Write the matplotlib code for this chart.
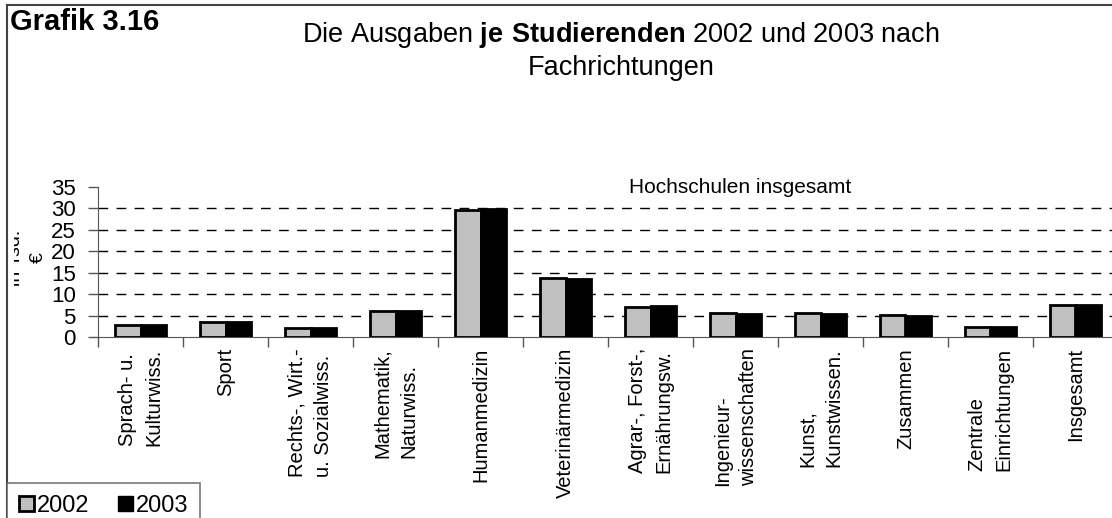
import matplotlib
matplotlib.use("Agg")
import matplotlib.pyplot as plt
import numpy as np
from matplotlib.patches import Patch
from matplotlib.lines import Line2D
from matplotlib.transforms import Bbox

# data (Tsd. Euro je Studierenden)
categories = ["Sprach- u.\nKulturwiss.", "Sport", "Rechts-, Wirt.-\nu. Sozialwiss.",
              "Mathematik,\nNaturwiss.", "Humanmedizin", "Veterinärmedizin",
              "Agrar-, Forst-,\nErnährungsw.", "Ingenieur-\nwissenschaften",
              "Kunst,\nKunstwissen.", "Zusammen", "Zentrale\nEinrichtungen", "Insgesamt"]
v2002 = [2.7, 3.6, 2.0, 6.1, 29.6, 13.7, 7.1, 5.5, 5.5, 5.1, 2.4, 7.5]
v2003 = [2.7, 3.4, 2.0, 6.0, 29.8, 13.6, 7.2, 5.3, 5.4, 5.0, 2.3, 7.4]
years = ["2002", "2003"]
yticks = [0, 5, 10, 15, 20, 25, 30, 35]

plt.rcParams['font.family'] = ['Liberation Sans', 'DejaVu Sans']
plt.rcParams['mathtext.fontset'] = 'custom'
plt.rcParams['mathtext.rm'] = 'Liberation Sans'
plt.rcParams['mathtext.bf'] = 'Liberation Sans:bold'

W, H = 1112, 518
fig = plt.figure(figsize=(W / 100, H / 100), dpi=100)

# axes in pixel coords: left 98, bottom (y=337), top (y=187), 85 px per category
left, right, top, bottom = 98, 98 + 85 * 12, 187, 337
ax = fig.add_axes([left / W, 1 - bottom / H, (right - left) / W, (bottom - top) / H])

x = np.arange(len(categories))
bw = 0.295
ax.bar(x - bw / 2, v2002, bw, color="#c0c0c0", edgecolor="black", linewidth=2, zorder=3)
ax.bar(x + bw / 2, v2003, bw, color="black", edgecolor="black", linewidth=2, zorder=3)

ax.set_xlim(-0.5, len(categories) - 0.5)
ax.set_ylim(0, 35)
ax.set_yticks(yticks)
ax.tick_params(axis='y', labelsize=16, length=7, width=1, color="#555555", pad=9)
ax.set_xticks(np.arange(len(categories) + 1) - 0.5)
ax.set_xticklabels([])
ax.tick_params(axis='x', length=7, width=1, color="#555555")
for i, lab in enumerate(categories):
    ax.text(i, -2.6, lab, rotation=90, ha='center', va='top', multialignment='left',
            fontsize=14.5, linespacing=1.5, transform=ax.transData, clip_on=False)

for yv in yticks[1:-1]:
    ax.axhline(yv, color="black", lw=1, ls=(0, (7, 6)), zorder=1)
for s in ["top", "right"]:
    ax.spines[s].set_visible(False)
ax.spines["left"].set_color("#555555")
ax.spines["bottom"].set_color("#555555")

# y label, partly cut off like in the original
ylab = fig.text(27 / W, 1 - 258 / H, "in Tsd.\n€", rotation=90, ha='center', va='center',
                fontsize=14, multialignment='center', linespacing=1.4)
ylab.set_clip_box(Bbox([[14, 0], [W, H]]))
ylab.set_clip_on(True)

fig.text(10 / W, 1 - 22 / H, "Grafik 3.16", fontsize=21, fontweight='bold', va='center')
fig.text(621 / W, 1 - 35 / H, r"Die Ausgaben $\bf{je\ Studierenden}$ 2002 und 2003 nach",
         fontsize=19.5, ha='center', va='center')
fig.text(621 / W, 1 - 68 / H, "Fachrichtungen", fontsize=19.5, ha='center', va='center')
fig.text(740 / W, 1 - 187 / H, "Hochschulen insgesamt", fontsize=15, ha='center', va='center')

# outer frame
fig.add_artist(Line2D([7 / W, 7 / W], [0, 1 - 5 / H], color="#444444", lw=1.5))
fig.add_artist(Line2D([7 / W, 1], [1 - 5 / H, 1 - 5 / H], color="#444444", lw=1.5))

handles = [Patch(facecolor="#c0c0c0", edgecolor="black", linewidth=2),
           Patch(facecolor="black", edgecolor="black")]
leg = fig.legend(handles, years, loc='upper left', bbox_to_anchor=(7 / W, 1 - 483 / H),
                 ncol=2, fontsize=17, frameon=True, fancybox=False, borderpad=0.5,
                 handlelength=0.65, handleheight=0.65, handletextpad=0.12, columnspacing=1.2,
                 borderaxespad=0)
leg.get_frame().set_edgecolor("#555555")
leg.get_frame().set_linewidth(1.2)

fig.savefig("out.png", dpi=100)
